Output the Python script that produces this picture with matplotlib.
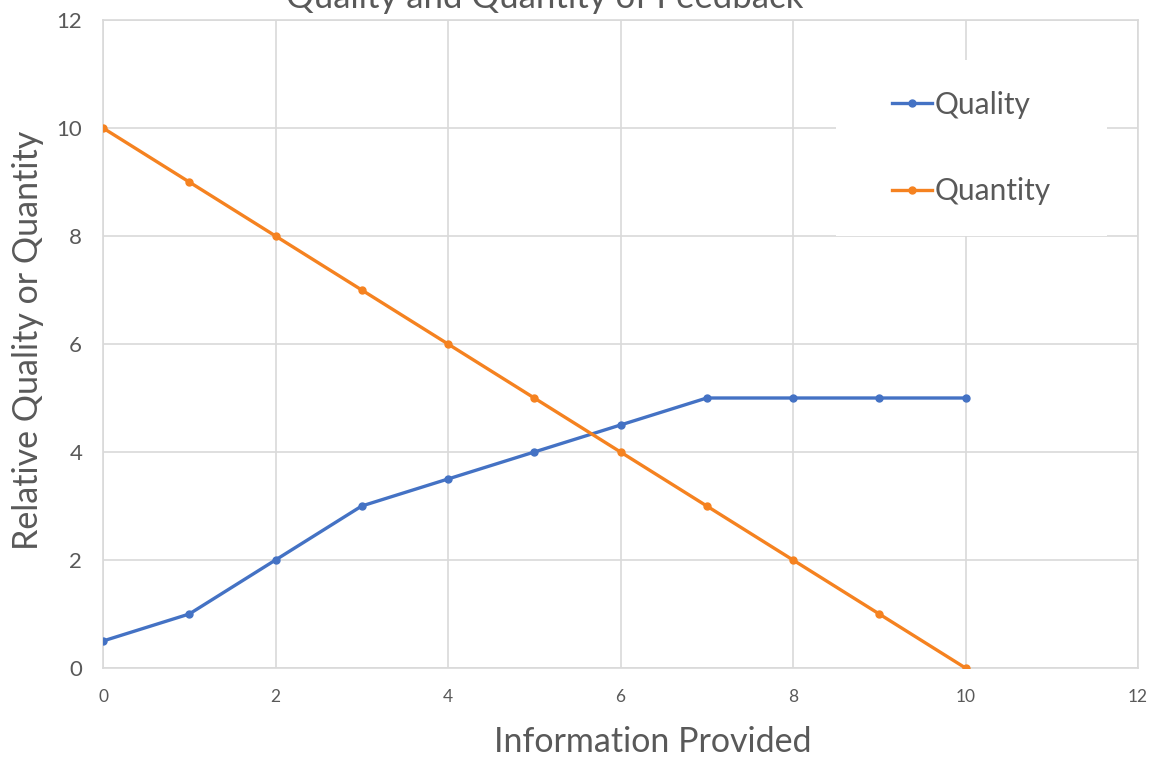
import matplotlib
matplotlib.use("Agg")
import matplotlib.pyplot as plt
from matplotlib.patches import Rectangle

info = [0, 1, 2, 3, 4, 5, 6, 7, 8, 9, 10]
quality = [0.5, 1, 2, 3, 3.5, 4, 4.5, 5, 5, 5, 5]
quantity = [10, 9, 8, 7, 6, 5, 4, 3, 2, 1, 0]

plt.rcParams['font.family'] = ['Lato', 'DejaVu Sans']
txt = '#595959'
grid = '#d9d9d9'

fig = plt.figure(figsize=(11.63, 7.63), dpi=100)
ax = fig.add_axes([103/1163, 1 - 668/763, 1035/1163, 648/763])

ax.plot(info, quality, color='#4472c4', lw=2.4, marker='o', ms=5, label='Quality', zorder=3)
ax.plot(info, quantity, color='#f58220', lw=2.4, marker='o', ms=5, label='Quantity', zorder=3)

ax.set_xlim(0, 12)
ax.set_ylim(0, 12)
ax.set_xticks(range(0, 13, 2))
ax.set_yticks(range(0, 13, 2))
ax.grid(True, color=grid, lw=1.2)
ax.set_axisbelow(True)
for s in ax.spines.values():
    s.set_color(grid)
    s.set_linewidth(1.2)
ax.tick_params(length=0, colors=txt)
ax.tick_params(axis='x', labelsize=12.5, pad=15)
ax.tick_params(axis='y', labelsize=16, pad=15)

ax.set_xlabel('Information Provided', fontsize=24.5, color=txt)
ax.set_ylabel('Relative Quality or Quantity', fontsize=24.5, color=txt)
ax.xaxis.set_label_coords((653 - 103) / 1035, -(742 - 668) / 648)
ax.yaxis.set_label_coords(-(103 - 28) / 1035, (668 - 340) / 648)
ax.xaxis.label.set_va('center')
ax.yaxis.label.set_va('center')

fig.text(545/1163, 1 - 8/763, 'Quality and Quantity of Feedback', fontsize=25,
         color=txt, ha='center', va='baseline')

# white legend panel covering the grid
ax.add_patch(Rectangle(((836 - 103) / 1035, (668 - 236) / 648), 271 / 1035, 176 / 648,
                       transform=ax.transAxes, facecolor='white', edgecolor='none', zorder=1))

leg = ax.legend(loc='center', bbox_to_anchor=(733/1035, 432/648, 271/1035, 176/648),
                frameon=False, fontsize=21.5, handlelength=1.33,
                handletextpad=0.1, labelspacing=1.95, labelcolor=txt)

fig.savefig('out.png', dpi=100)
